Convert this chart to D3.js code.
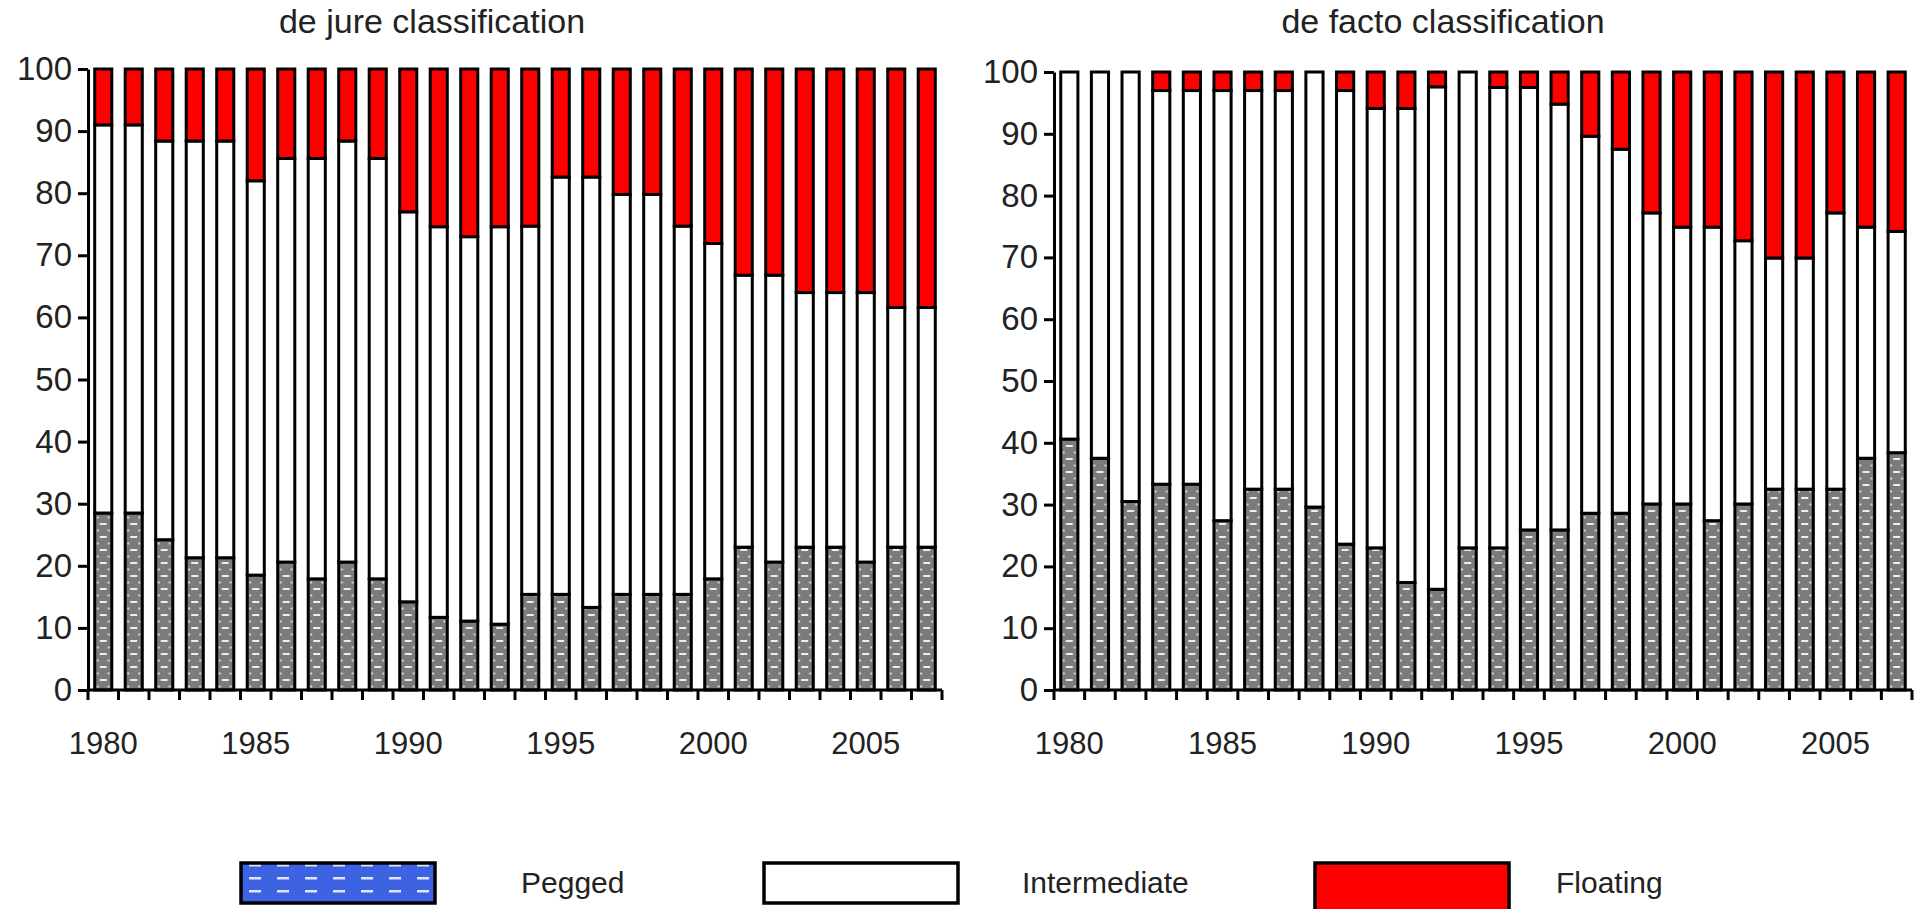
<!DOCTYPE html>
<html><head><meta charset="utf-8">
<script src="https://cdn.jsdelivr.net/npm/d3@7"></script>
<style>
html,body{margin:0;padding:0;background:#fff;overflow:hidden}
text{font-family:"Liberation Sans",Arial,sans-serif;fill:#222}
</style></head><body>
<svg id="chart" width="1924" height="909"></svg>
<script>
const years = [1980,1981,1982,1983,1984,1985,1986,1987,1988,1989,1990,1991,1992,1993,1994,1995,1996,1997,1998,1999,2000,2001,2002,2003,2004,2005,2006,2007];
const yearTicks = [1980,1985,1990,1995,2000,2005];
const yTicks = [0,10,20,30,40,50,60,70,80,90,100];
const seriesNames = ["Pegged","Intermediate","Floating"];
const panelTitles = ["de jure classification","de facto classification"];

// de jure shares (%)
const jurePegged = [28.5,28.5,24.2,21.3,21.3,18.5,20.6,17.9,20.6,17.9,14.2,11.7,11.1,10.6,15.4,15.4,13.3,15.4,15.4,15.4,17.9,23.0,20.6,23.0,23.0,20.6,23.0,23.0];
const jureIntermediate = [62.5,62.5,64.2,67.1,67.1,63.5,65.0,67.7,67.8,67.7,62.8,62.9,61.9,64.0,59.3,67.2,69.3,64.4,64.4,59.3,54.0,43.8,46.2,41.0,41.0,43.4,38.6,38.6];
const jureFloating = [9.0,9.0,11.6,11.6,11.6,18.0,14.4,14.4,11.6,14.4,23.0,25.4,27.0,25.4,25.3,17.4,17.4,20.2,20.2,25.3,28.1,33.2,33.2,36.0,36.0,36.0,38.4,38.4];

// de facto shares (%)
const factoPegged = [40.6,37.5,30.5,33.3,33.3,27.4,32.5,32.5,29.6,23.6,23.0,17.4,16.3,23.0,23.0,25.9,25.9,28.6,28.6,30.1,30.1,27.4,30.1,32.5,32.5,32.5,37.5,38.4];
const factoIntermediate = [59.4,62.5,69.5,63.7,63.7,69.6,64.5,64.5,70.4,73.4,71.1,76.7,81.3,77.0,74.5,71.6,68.9,61.0,58.9,47.1,44.8,47.5,42.6,37.4,37.4,44.7,37.4,35.8];
const factoFloating = [0,0,0,3.0,3.0,3.0,3.0,3.0,0,3.0,5.9,5.9,2.4,0,2.5,2.5,5.2,10.4,12.5,22.8,25.1,25.1,27.3,30.1,30.1,22.8,25.1,25.8];

const svg = d3.select("#chart");
const defs = svg.append("defs");

function panel(cfg) {
  const x = d3.scaleBand().domain(years).range([cfg.x0, cfg.x1]).paddingInner(0.44).paddingOuter(0.22);
  const y = d3.scaleLinear().domain([0, 100]).range([cfg.y0, cfg.y100]);
  const step = x.step(), bw = x.bandwidth();
  const gap = (step - bw) / 2;

  const pid = "peg" + cfg.id;
  const pat = defs.append("pattern").attr("id", pid).attr("patternUnits", "userSpaceOnUse")
    .attr("x", x(years[0])).attr("y", 0).attr("width", step).attr("height", 13);
  pat.append("rect").attr("width", step).attr("height", 13).attr("fill", "#7b7b7b");
  pat.append("rect").attr("x", bw / 2 - 3.5).attr("y", 3).attr("width", 7).attr("height", 2).attr("fill", "#eeeeee");
  pat.append("rect").attr("x", 2).attr("y", 9.5).attr("width", 2).attr("height", 2).attr("fill", "#d8d8d8");
  pat.append("rect").attr("x", bw - 4).attr("y", 9.5).attr("width", 2).attr("height", 2).attr("fill", "#d8d8d8");

  const rows = years.map((yr, i) => ({year: yr, Pegged: cfg.pegged[i], Intermediate: cfg.inter[i], Floating: cfg.floating[i]}));
  const stacked = d3.stack().keys(seriesNames)(rows);
  const fills = {Pegged: `url(#${pid})`, Intermediate: "#ffffff", Floating: "#ff0000"};

  svg.append("g").selectAll("g").data(stacked).join("g")
    .attr("fill", d => fills[d.key])
    .selectAll("rect").data(d => d.filter(p => p[1] - p[0] > 0)).join("rect")
    .attr("x", d => x(d.data.year)).attr("width", bw)
    .attr("y", d => y(d[1])).attr("height", d => y(d[0]) - y(d[1]))
    .attr("stroke", "#000").attr("stroke-width", 3);

  // y axis
  const yg = svg.append("g").attr("transform", `translate(${cfg.x0},0)`)
    .call(d3.axisLeft(y).tickValues(yTicks).tickSize(10).tickSizeOuter(0).tickPadding(6))
    .attr("font-size", 33).attr("font-family", null);
  yg.select(".domain").attr("stroke-width", 3);
  yg.selectAll(".tick line").attr("stroke-width", 3);

  // x axis: line + boundary ticks
  const xg = svg.append("g");
  xg.append("line").attr("x1", cfg.x0).attr("x2", cfg.x1).attr("y1", y(0)).attr("y2", y(0))
    .attr("stroke", "#000").attr("stroke-width", 3);
  const bounds = years.map(yr => x(yr) - gap).concat([x(years[years.length - 1]) + bw + gap]);
  xg.selectAll("line.t").data(bounds).join("line").attr("class", "t")
    .attr("x1", d => d).attr("x2", d => d).attr("y1", y(0)).attr("y2", y(0) + 10)
    .attr("stroke", "#000").attr("stroke-width", 3);
  xg.selectAll("text").data(yearTicks).join("text")
    .attr("x", d => x(d) + bw / 2).attr("y", y(0) + 64)
    .attr("text-anchor", "middle").attr("font-size", 31).text(d => d);

  svg.append("text").attr("x", cfg.titleX).attr("y", 33).attr("text-anchor", "middle")
    .attr("font-size", 34).text(cfg.title);
}

panel({id: "a", x0: 88, x1: 942, y0: 690, y100: 69, pegged: jurePegged, inter: jureIntermediate, floating: jureFloating, title: panelTitles[0], titleX: 432});
panel({id: "b", x0: 1054, x1: 1912, y0: 690, y100: 72, pegged: factoPegged, inter: factoIntermediate, floating: factoFloating, title: panelTitles[1], titleX: 1443});

// legend
const lp = defs.append("pattern").attr("id", "pegLegend").attr("patternUnits", "userSpaceOnUse")
  .attr("x", 241).attr("y", 859).attr("width", 28).attr("height", 13);
lp.append("rect").attr("width", 28).attr("height", 13).attr("fill", "#3d63e3");
lp.append("rect").attr("x", 8).attr("y", 5).attr("width", 12).attr("height", 2.5).attr("fill", "#dfe6ff");

const legendFills = ["url(#pegLegend)", "#ffffff", "#ff0000"];
const legendBoxX = [241, 764, 1315];
const legendTextX = [521, 1022, 1556];
const lg = svg.append("g");
lg.selectAll("rect").data(seriesNames).join("rect")
  .attr("x", (d, i) => legendBoxX[i]).attr("y", 863)
  .attr("width", 194).attr("height", (d, i) => i === 2 ? 52 : 40)
  .attr("fill", (d, i) => legendFills[i]).attr("stroke", "#000").attr("stroke-width", 3.5);
lg.selectAll("text").data(seriesNames).join("text")
  .attr("x", (d, i) => legendTextX[i]).attr("y", 893)
  .attr("font-size", 30).text(d => d);
</script>
</body></html>
